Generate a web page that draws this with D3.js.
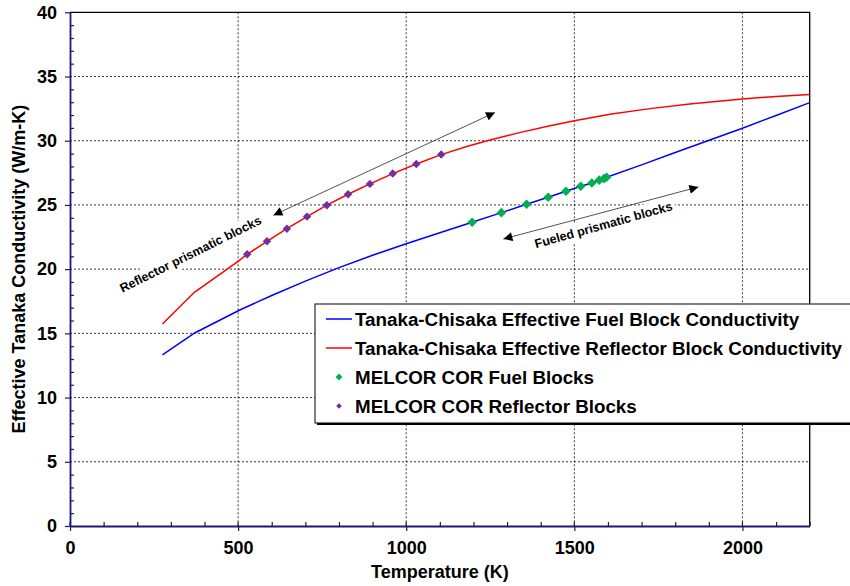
<!DOCTYPE html>
<html><head><meta charset="utf-8">
<script src="https://cdn.jsdelivr.net/npm/d3@7/dist/d3.min.js"></script>
<style>
html,body{margin:0;padding:0;background:#fff;}
svg{display:block;}
text{font-family:"Liberation Sans",Arial,sans-serif;}
</style></head>
<body>
<svg id="chart" width="850" height="586"></svg>
<script>
// ---- Data ----
const xTicks = [0, 500, 1000, 1500, 2000];
const yTicks = [0, 5, 10, 15, 20, 25, 30, 35, 40];

const fuelCurveT = [275, 372, 505, 600, 700, 800, 900, 1000, 1100, 1196, 1283, 1358, 1422, 1475, 1519, 1552, 1596, 1700, 1800, 1903, 2000, 2100, 2200];
const fuelCurveK = [13.32, 15.05, 16.82, 17.95, 19.07, 20.12, 21.08, 21.98, 22.83, 23.65, 24.40, 25.05, 25.60, 26.07, 26.46, 26.71, 27.16, 28.12, 29.08, 30.06, 30.97, 31.97, 32.97];

const reflCurveT = [275, 370, 500, 527, 586, 645, 705, 764, 827, 892, 960, 1030, 1104, 1180, 1249, 1340, 1428, 1500, 1606, 1725, 1850, 2000, 2100, 2200];
const reflCurveK = [15.73, 18.2, 20.6, 21.16, 22.17, 23.15, 24.09, 24.98, 25.83, 26.64, 27.44, 28.19, 28.92, 29.55, 30.05, 30.65, 31.16, 31.55, 32.07, 32.5, 32.88, 33.25, 33.45, 33.6];

const melcorFuelT = [1196, 1283, 1358, 1422, 1475, 1519, 1552, 1574, 1588, 1596];
const melcorFuelK = [23.65, 24.40, 25.05, 25.60, 26.07, 26.46, 26.71, 26.93, 27.05, 27.16];

const melcorReflT = [527, 586, 645, 705, 764, 827, 892, 960, 1030, 1104];
const melcorReflK = [21.16, 22.17, 23.15, 24.09, 24.98, 25.83, 26.64, 27.44, 28.19, 28.92];

const legendLabels = [
  "Tanaka-Chisaka Effective Fuel Block Conductivity",
  "Tanaka-Chisaka Effective Reflector Block Conductivity",
  "MELCOR COR Fuel Blocks",
  "MELCOR COR Reflector Blocks"
];

// annotations (data coords)
const reflArrow = {from: [605, 24.2], to: [1264, 32.2]};
const fuelArrow = {from: [1289, 22.35], to: [1869, 26.4]};
const reflNote = {text: "Reflector prismatic blocks", at: [364, 20.87], angle: -26.4};
const fuelNote = {text: "Fueled prismatic blocks", at: [1590, 23.12], angle: -15.6};

// ---- Layout ----
const svg = d3.select("#chart");
const L = 70, R = 809.7, T = 12.3, B = 526;
const x = d3.scaleLinear().domain([0, 2200]).range([L, R]);
const y = d3.scaleLinear().domain([0, 40]).range([B, T]);

const navy = "#1a1a6e";
const blue = "#0000ff", red = "#ff0000", green = "#00b050", purple = "#7030a0";

// grid
const grid = svg.append("g");
grid.selectAll("line.gx").data(xTicks.filter(d => d > 0)).join("line")
  .attr("x1", d => x(d)).attr("x2", d => x(d)).attr("y1", T).attr("y2", B)
  .attr("stroke", "#000").attr("stroke-width", 0.8).attr("stroke-dasharray", "2,2");
grid.selectAll("line.gy").data(yTicks.filter(d => d > 0 && d < 40)).join("line")
  .attr("x1", L).attr("x2", R).attr("y1", d => y(d)).attr("y2", d => y(d))
  .attr("stroke", "#000").attr("stroke-width", 0.8).attr("stroke-dasharray", "2,2");

// top/right border
svg.append("path").attr("d", `M${L},${T}H${R}V${B}`).attr("fill", "none").attr("stroke", "#000").attr("stroke-width", 1.3);

// axes
const yAxis = d3.axisLeft(y).tickValues(yTicks).tickSize(5).tickSizeOuter(0).tickPadding(8).tickFormat(d3.format("d"));
const gy = svg.append("g").attr("transform", `translate(${L},0)`).call(yAxis);
const yMinor = d3.axisRight(y).tickValues(d3.range(0, 41, 1).filter(d => d % 5 !== 0)).tickSize(4).tickSizeOuter(0).tickFormat("");
const gym = svg.append("g").attr("transform", `translate(${L},0)`).call(yMinor);
gym.select(".domain").remove();

const xAxis = d3.axisBottom(x).tickValues(xTicks).tickSize(5).tickSizeOuter(0).tickPadding(10).tickFormat(d3.format("d"));
const gx = svg.append("g").attr("transform", `translate(0,${B})`).call(xAxis);
const xMinor = d3.axisTop(x).tickValues(d3.range(0, 2201, 100).filter(d => d % 500 !== 0 || d === 2200)).tickSize(4).tickSizeOuter(0).tickFormat("");
const gxm = svg.append("g").attr("transform", `translate(0,${B})`).call(xMinor);
gxm.select(".domain").remove();
svg.append("g").selectAll("line").data(xTicks).join("line")
  .attr("x1", d => x(d)).attr("x2", d => x(d)).attr("y1", B - 4).attr("y2", B)
  .attr("stroke", navy).attr("stroke-width", 1.2);

[gy, gx, gym, gxm].forEach(g => {
  g.selectAll(".domain").attr("stroke", navy).attr("stroke-width", 1.8);
  g.selectAll(".tick line").attr("stroke", navy).attr("stroke-width", 1.2);
  g.selectAll(".tick text").attr("fill", "#000").attr("font-size", "18px").attr("font-weight", "bold")
    .attr("font-family", '"Liberation Sans", Arial, sans-serif');
});

// axis titles
svg.append("text").attr("x", (L + R) / 2).attr("y", 578).attr("text-anchor", "middle")
  .attr("font-size", "18px").attr("font-weight", "bold").text("Temperature (K)");
svg.append("text").attr("transform", `translate(25,${(T + B) / 2}) rotate(-90)`).attr("text-anchor", "middle")
  .attr("font-size", "18px").attr("font-weight", "bold").text("Effective Tanaka Conductivity (W/m-K)");

// curves
const line = d3.line().x(d => x(d[0])).y(d => y(d[1]));
svg.append("path").datum(d3.zip(fuelCurveT, fuelCurveK)).attr("d", line)
  .attr("fill", "none").attr("stroke", blue).attr("stroke-width", 1.5);
svg.append("path").datum(d3.zip(reflCurveT, reflCurveK)).attr("d", line)
  .attr("fill", "none").attr("stroke", red).attr("stroke-width", 1.5);

// markers
function drawDiamonds(data, color, size) {
  svg.append("g").selectAll("path").data(data).join("path")
    .attr("transform", d => `translate(${x(d[0])},${y(d[1])}) rotate(45)`)
    .attr("d", d3.symbol().type(d3.symbolSquare).size(size))
    .attr("fill", color);
}
drawDiamonds(d3.zip(melcorReflT, melcorReflK), purple, 36);
drawDiamonds(d3.zip(melcorFuelT, melcorFuelK), green, 46);

// arrows
const defs = svg.append("defs");
defs.append("marker").attr("id", "ah").attr("viewBox", "0 0 10 10").attr("refX", 10).attr("refY", 5)
  .attr("markerWidth", 10).attr("markerHeight", 9).attr("markerUnits", "userSpaceOnUse")
  .attr("orient", "auto-start-reverse")
  .append("path").attr("d", "M0,0L10,5L0,10Z").attr("fill", "#000");
[reflArrow, fuelArrow].forEach(a => {
  svg.append("line").attr("x1", x(a.from[0])).attr("y1", y(a.from[1]))
    .attr("x2", x(a.to[0])).attr("y2", y(a.to[1]))
    .attr("stroke", "#404040").attr("stroke-width", 0.9)
    .attr("marker-start", "url(#ah)").attr("marker-end", "url(#ah)");
});

// notes
[reflNote, fuelNote].forEach(n => {
  const g = svg.append("g").attr("transform", `translate(${x(n.at[0])},${y(n.at[1])}) rotate(${n.angle})`);
  const t = g.append("text").attr("text-anchor", "middle").attr("font-family", "Lato, 'Open Sans', sans-serif")
    .attr("font-weight", "bold").attr("font-size", "12.5px").attr("fill", "#000").text(n.text);
  const bb = t.node().getBBox();
  g.insert("rect", "text").attr("x", bb.x - 3).attr("y", bb.y - 2).attr("width", bb.width + 6).attr("height", bb.height + 4)
    .attr("fill", "#fff");
});

// legend
const lg = svg.append("g");
const lx = 315, ly = 304, lw = 560, lh = 119;
lg.append("rect").attr("x", lx + 2).attr("y", ly + 2).attr("width", lw).attr("height", lh).attr("fill", "#000");
lg.append("rect").attr("x", lx).attr("y", ly).attr("width", lw).attr("height", lh).attr("fill", "#fff")
  .attr("stroke", "#000").attr("stroke-width", 1);
const rowY = [319, 348, 377, 406];
const kinds = [{t: "line", c: blue}, {t: "line", c: red}, {t: "dot", c: green}, {t: "dot", c: purple}];
kinds.forEach((k, i) => {
  if (k.t === "line") {
    lg.append("line").attr("x1", 326).attr("x2", 352).attr("y1", rowY[i]).attr("y2", rowY[i])
      .attr("stroke", k.c).attr("stroke-width", 1.5);
  } else {
    lg.append("path").attr("transform", `translate(339,${rowY[i]}) rotate(45)`)
      .attr("d", d3.symbol().type(d3.symbolSquare).size(i === 2 ? 24 : 16)).attr("fill", k.c);
  }
  lg.append("text").attr("x", 355).attr("y", rowY[i] + 6.5).attr("font-size", "18.8px").attr("font-weight", "bold")
    .attr("fill", "#000").text(legendLabels[i]);
});
</script>
</body></html>
